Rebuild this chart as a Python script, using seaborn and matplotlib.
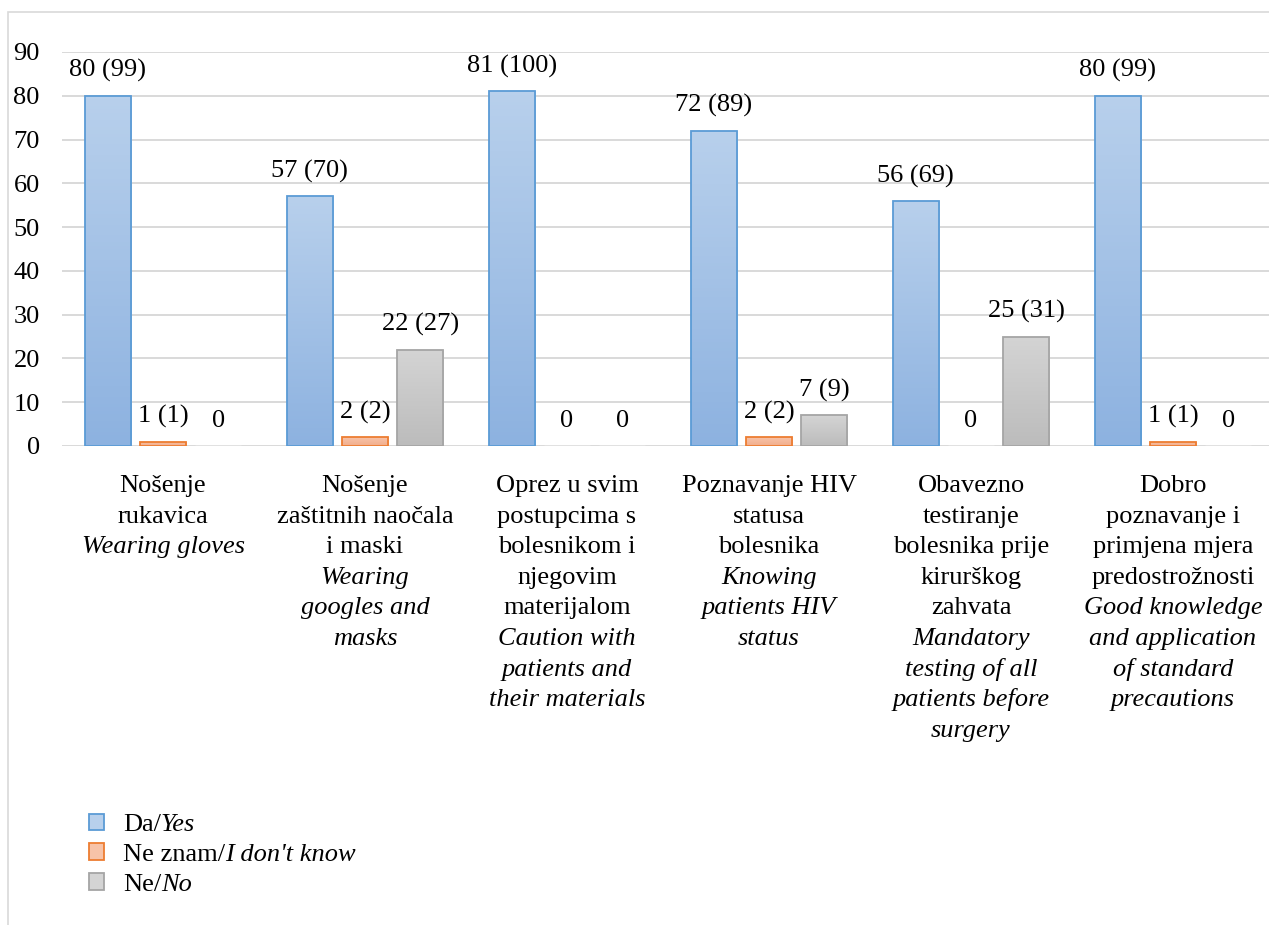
import numpy as np
import pandas as pd
import seaborn as sns
import matplotlib.pyplot as plt
from matplotlib import transforms
from matplotlib.colors import LinearSegmentedColormap
from matplotlib.patches import Rectangle, Patch

# category labels: croatian part (regular) + english part (italic)
cat_hr = [["Nošenje", "rukavica"],
          ["Nošenje", "zaštitnih naočala", "i maski"],
          ["Oprez u svim", "postupcima s", "bolesnikom i", "njegovim", "materijalom"],
          ["Poznavanje HIV", "statusa", "bolesnika"],
          ["Obavezno", "testiranje", "bolesnika prije", "kirurškog", "zahvata"],
          ["Dobro", "poznavanje i", "primjena mjera", "predostrožnosti"]]
cat_en = [["Wearing gloves"],
          ["Wearing", "googles and", "masks"],
          ["Caution with", "patients and", "their materials"],
          ["Knowing", "patients HIV", "status"],
          ["Mandatory", "testing of all", "patients before", "surgery"],
          ["Good knowledge", "and application", "of standard", "precautions"]]

series_hr = ["Da", "Ne znam", "Ne"]
series_en = ["Yes", "I don't know", "No"]

yes_n = [80, 57, 81, 72, 56, 80]
yes_pct = [99, 70, 100, 89, 69, 99]
dk_n = [1, 2, 0, 2, 0, 1]
dk_pct = [1, 2, 0, 2, 0, 1]
no_n = [0, 22, 0, 7, 25, 0]
no_pct = [0, 27, 0, 9, 31, 0]

cat_keys = [" ".join(c) for c in cat_hr]
df = pd.DataFrame({
    "cat": cat_keys * 3,
    "series": [series_hr[0]] * 6 + [series_hr[1]] * 6 + [series_hr[2]] * 6,
    "n": yes_n + dk_n + no_n,
})
pcts = [yes_pct, dk_pct, no_pct]
counts = [yes_n, dk_n, no_n]

edge_cols = ["#5b9bd5", "#ed7d31", "#a5a5a5"]
top_cols = ["#b8d0ec", "#f7c3a8", "#d4d4d4"]
bot_cols = ["#8db2e0", "#f2ad8c", "#bcbcbc"]

sns.set_style("white")
plt.rcParams["font.family"] = ["Liberation Serif", "DejaVu Serif"]
plt.rcParams["text.color"] = "black"
plt.rcParams["ytick.color"] = "black"
FS = 19

fig = plt.figure(figsize=(12.69, 9.25), dpi=100)
ax = fig.add_axes([62 / 1269, 1 - 446 / 925, 1207 / 1269, 394 / 925])

sns.barplot(data=df, x="cat", y="n", hue="series", order=cat_keys,
            hue_order=series_hr, palette=top_cols, width=0.82, gap=0.16,
            ax=ax, legend=False, errorbar=None)

ax.set_ylim(0, 90)
ax.set_xlim(-0.5, 5.475)

# gradient fill for the bars
for k, cont in enumerate(ax.containers):
    cmap = LinearSegmentedColormap.from_list("g%d" % k, [bot_cols[k], top_cols[k]])
    for i, bar in enumerate(cont):
        h = bar.get_height()
        x0, w = bar.get_x(), bar.get_width()
        if h > 0:
            grad = np.linspace(0, 1, 100).reshape(-1, 1)
            im = ax.imshow(grad, extent=[x0, x0 + w, 0, h], origin="lower",
                           aspect="auto", cmap=cmap, zorder=2)
            im.set_clip_path(bar)
            bar.set_facecolor("none")
            bar.set_edgecolor(edge_cols[k])
            bar.set_linewidth(1.3)
            bar.set_zorder(3)
        lab = "0" if counts[k][i] == 0 else "%d (%d)" % (counts[k][i], pcts[k][i])
        ax.annotate(lab, (x0 + w / 2, h), xytext=(0, 13.5), textcoords="offset points",
                    ha="center", va="baseline", fontsize=FS, color="black")

ax.set_ylim(0, 90)
ax.set_xlim(-0.5, 5.475)
ax.set_yticks(range(0, 91, 10))
ax.yaxis.grid(True, color="#d9d9d9", lw=1.4)
ax.set_axisbelow(True)
for s in ax.spines.values():
    s.set_visible(False)
ax.tick_params(axis="y", length=0, pad=16, labelsize=FS, labelcolor="black")
ax.set_xticks([])
ax.set_xlabel("")
ax.set_ylabel("")

# multi-line category labels
for i in range(len(cat_hr)):
    lines = [(t, "normal") for t in cat_hr[i]] + [(t, "italic") for t in cat_en[i]]
    for j, (t, st) in enumerate(lines):
        tr = transforms.offset_copy(ax.get_xaxis_transform(), fig=fig, x=0,
                                    y=-(46 + 30.6 * j) * 0.72, units="points")
        ax.text(i, 0, t, transform=tr, ha="center", va="baseline",
                fontsize=FS, style=st, color="black")

# legend
handles = [Patch(facecolor=top_cols[k], edgecolor=edge_cols[k], lw=1.3) for k in range(3)]
leg = fig.legend(handles, [s + "/" for s in series_hr], loc="upper left",
                 bbox_to_anchor=(78 / 1269, 1 - 803 / 925), frameon=False,
                 fontsize=FS, handlelength=0.58, handleheight=0.58,
                 handletextpad=0.72, labelspacing=0.28, borderaxespad=0)
for t in leg.get_texts():
    t.set_color("black")

fig.canvas.draw()
for t, it in zip(leg.get_texts(), series_en):
    bb = t.get_window_extent()
    fig.text(bb.x1, bb.y0, it, transform=transforms.IdentityTransform(),
             ha="left", va="bottom", fontsize=FS, style="italic", color="black")

# outer frame
fig.add_artist(Rectangle((8 / 1269, -0.05), 1.0, 1 - 12 / 925 + 0.05,
                         transform=fig.transFigure, fill=False,
                         edgecolor="#d9d9d9", lw=1.2))

fig.savefig("out.png", dpi=100)
